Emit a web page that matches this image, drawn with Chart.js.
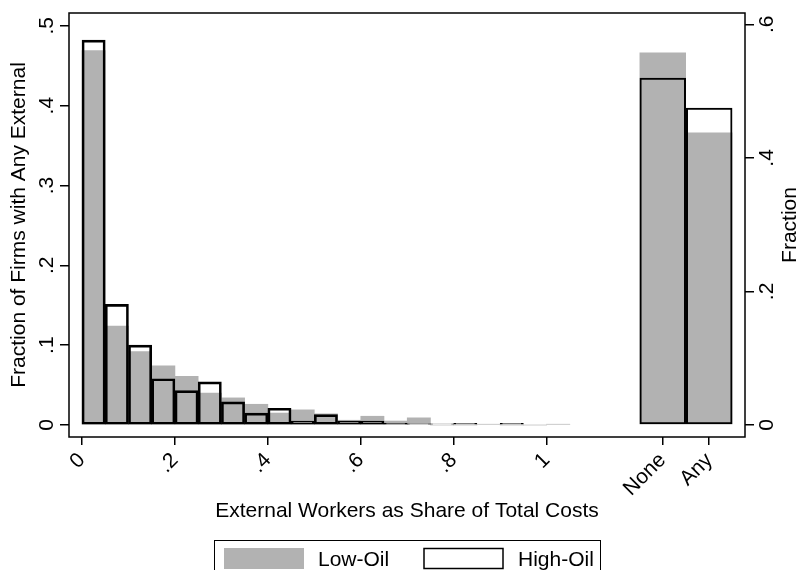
<!DOCTYPE html>
<html>
<head>
<meta charset="utf-8">
<script src="https://cdn.jsdelivr.net/npm/chart.js@4"></script>
<style>
  html, body { margin: 0; padding: 0; background: #fff; }
</style>
</head>
<body>
<canvas id="histChart" width="798" height="570"></canvas>
<script>
// histogram bins of width .05 (midpoints), share of total costs
const binMids = [0.025, 0.075, 0.125, 0.175, 0.225, 0.275, 0.325, 0.375, 0.425, 0.475,
                 0.525, 0.575, 0.625, 0.675, 0.725, 0.775, 0.825, 0.875, 0.925, 0.975, 1.025];
const lowOilHist  = [0.469, 0.124, 0.092, 0.074, 0.061, 0.040, 0.034, 0.026, 0.015, 0.019,
                     0.014, 0.006, 0.011, 0.005, 0.009, 0, 0, 0.001, 0, 0, 0.001];
const highOilHist = [0.482, 0.151, 0.100, 0.058, 0.043, 0.054, 0.029, 0.015, 0.021, 0.005,
                     0.013, 0.005, 0.005, 0.002, 0.0015, 0.0015, 0.002, 0, 0.002, 0, 0];

// any external workers (right axis)
const groupPos = [1.25, 1.35];
const groupLabels = ['None', 'Any'];
const lowOilGroup  = [0.558, 0.438];
const highOilGroup = [0.520, 0.475];

const xTickVals = [0, 0.2, 0.4, 0.6, 0.8, 1, 1.25, 1.35];
const xTickLabels = ['0', '.2', '.4', '.6', '.8', '1', 'None', 'Any'];
const leftTicks = [0, 0.1, 0.2, 0.3, 0.4, 0.5];
const leftTickLabels = ['0', '.1', '.2', '.3', '.4', '.5'];
const rightTicks = [0, 0.2, 0.4, 0.6];
const rightTickLabels = ['0', '.2', '.4', '.6'];

const FONT_FAMILY = '"Liberation Sans", Arial, sans-serif';
const FONT = '21px ' + FONT_FAMILY;
const GREY = '#b2b2b2';

function pts(xs, ys) {
    return xs.map((x, i) => ({ x: x, y: ys[i] }));
}

const framePlugin = {
    id: 'framePlugin',
    afterDraw(chart) {
        const { ctx, chartArea: a, scales } = chart;
        ctx.save();
        ctx.strokeStyle = '#000';
        ctx.lineWidth = 1.5;
        ctx.strokeRect(a.left, a.top, a.right - a.left, a.bottom - a.top);

        ctx.fillStyle = '#000';
        ctx.font = FONT;
        ctx.textAlign = 'center';
        ctx.textBaseline = 'alphabetic';
        const vText = (txt, x, y) => {
            ctx.save();
            ctx.translate(x, y);
            ctx.rotate(-Math.PI / 2);
            ctx.fillText(txt, 0, 0);
            ctx.restore();
        };
        leftTicks.forEach((v, i) => vText(leftTickLabels[i], a.left - 16, scales.y.getPixelForValue(v)));
        rightTicks.forEach((v, i) => vText(rightTickLabels[i], a.right + 28, scales.y1.getPixelForValue(v)));
        const midY = (a.top + a.bottom) / 2;
        vText('Fraction of Firms with Any External', 25, midY);
        vText('Fraction', a.right + 51, midY);

        const midX = (a.left + a.right) / 2;
        ctx.fillText('External Workers as Share of Total Costs', midX, 517);

        // legend
        const lx = midX - 193, ly = 540;
        ctx.lineWidth = 1;
        ctx.strokeStyle = '#000';
        ctx.strokeRect(lx + 0.5, ly + 0.5, 386, 60);
        ctx.textAlign = 'left';
        ctx.fillStyle = chart.data.datasets[0].backgroundColor;
        ctx.fillRect(lx + 10, ly + 8, 80, 21);
        ctx.fillStyle = '#000';
        ctx.fillText(chart.data.datasets[0].label, lx + 104, ly + 26);
        ctx.lineWidth = 1.5;
        ctx.strokeStyle = chart.data.datasets[1].borderColor;
        ctx.strokeRect(lx + 210, ly + 8.5, 79, 20);
        ctx.fillText(chart.data.datasets[1].label, lx + 304, ly + 26);
        ctx.restore();
    }
};

const tickGrid = (len) => ({
    offset: false,
    drawOnChartArea: false,
    drawTicks: true,
    tickLength: len,
    color: '#000',
    lineWidth: 1.5
});

new Chart(document.getElementById('histChart'), {
    type: 'bar',
    data: {
        datasets: [
            { label: 'Low-Oil', data: pts(binMids, lowOilHist), yAxisID: 'y', order: 2,
              backgroundColor: GREY, borderWidth: 0, barPercentage: 1, categoryPercentage: 1 },
            { label: 'High-Oil', data: pts(binMids, highOilHist), yAxisID: 'y', order: 1,
              backgroundColor: 'rgba(255,255,255,0)', borderColor: '#000', borderWidth: 2,
              borderSkipped: false, barPercentage: 1, categoryPercentage: 1 },
            { label: 'Low-Oil', data: pts(groupPos, lowOilGroup), yAxisID: 'y1', order: 2,
              backgroundColor: GREY, borderWidth: 0, barPercentage: 2, categoryPercentage: 1 },
            { label: 'High-Oil', data: pts(groupPos, highOilGroup), yAxisID: 'y1', order: 1,
              backgroundColor: 'rgba(255,255,255,0)', borderColor: '#000', borderWidth: 2,
              borderSkipped: false, barPercentage: 2, categoryPercentage: 1 }
        ]
    },
    options: {
        responsive: false,
        animation: false,
        grouped: false,
        layout: { padding: { top: 13, left: 0, right: 0, bottom: 0 } },
        plugins: { legend: { display: false }, tooltip: { enabled: false } },
        scales: {
            x: {
                type: 'linear', min: -0.028, max: 1.427, offset: false,
                grid: tickGrid(8),
                border: { display: false },
                ticks: {
                    autoSkip: false, minRotation: 45, maxRotation: 45, padding: 3,
                    color: '#000', font: { family: FONT_FAMILY, size: 21 },
                    callback: (v, i) => xTickLabels[i]
                },
                afterBuildTicks: (s) => { s.ticks = xTickVals.map(v => ({ value: v })); },
                afterFit: (s) => { s.height = 133; }
            },
            y: {
                position: 'left', min: -0.015, max: 0.516,
                grid: tickGrid(9),
                border: { display: false },
                ticks: { display: false },
                afterBuildTicks: (s) => { s.ticks = leftTicks.map(v => ({ value: v })); },
                afterFit: (s) => { s.width = 69; }
            },
            y1: {
                position: 'right', min: -0.018, max: 0.617,
                grid: tickGrid(9),
                border: { display: false },
                ticks: { display: false },
                afterBuildTicks: (s) => { s.ticks = rightTicks.map(v => ({ value: v })); },
                afterFit: (s) => { s.width = 53; }
            }
        }
    },
    plugins: [framePlugin]
});
</script>
</body>
</html>
